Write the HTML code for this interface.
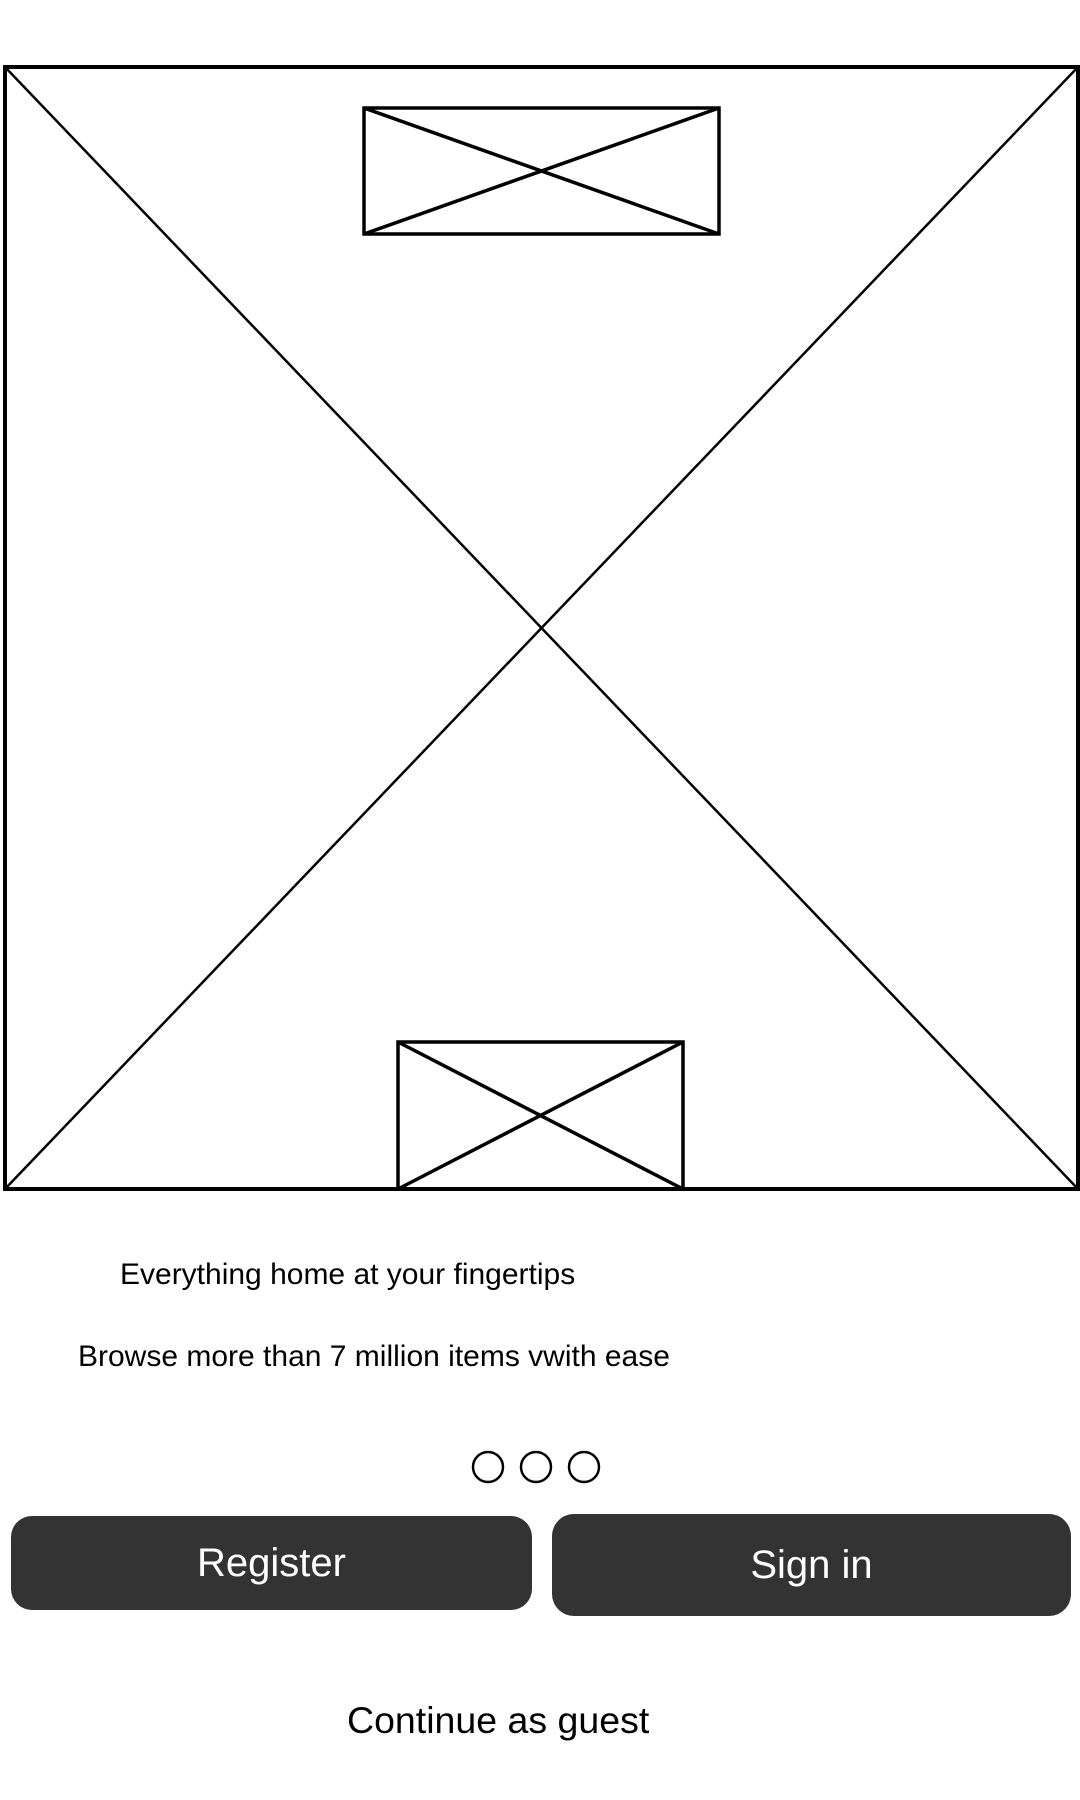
<!DOCTYPE html>
<html><head><meta charset="utf-8"><style>
html,body{margin:0;padding:0;background:#fff;width:1080px;height:1800px;overflow:hidden;font-family:"Liberation Sans",Arial,sans-serif}
.t{position:absolute;white-space:nowrap;color:#000}
.btn{position:absolute;background:#333;color:#fff;display:flex;align-items:center;justify-content:center;font-size:40px}
</style></head><body>
<svg width="1080" height="1800" style="position:absolute;left:0;top:0">
<g stroke="#000" fill="none">
<rect x="5" y="67" width="1073" height="1122" stroke-width="4"/>
<line x1="5" y1="67" x2="1078" y2="1189" stroke-width="2.5"/>
<line x1="1078" y1="67" x2="5" y2="1189" stroke-width="2.5"/>
</g>
<g stroke="#000" fill="none" stroke-width="3.5">
<rect x="364" y="108" width="355" height="126"/>
<line x1="364" y1="108" x2="719" y2="234"/>
<line x1="719" y1="108" x2="364" y2="234"/>
</g>
<g stroke="#000" fill="none" stroke-width="3.5">
<rect x="398" y="1042" width="285" height="147"/>
<line x1="398" y1="1042" x2="683" y2="1189"/>
<line x1="683" y1="1042" x2="398" y2="1189"/>
</g>
<g stroke="#000" fill="none" stroke-width="2.5">
<circle cx="488" cy="1467" r="15"/>
<circle cx="536" cy="1467" r="15"/>
<circle cx="584" cy="1467" r="15"/>
</g>
</svg>
<div class="t" style="left:120px;top:1258px;font-size:30px">Everything home at your fingertips</div>
<div class="t" style="left:78px;top:1340px;font-size:30px">Browse more than 7 million items vwith ease</div>
<div class="btn" style="left:11px;top:1516px;width:521px;height:94px;border-radius:21px">Register</div>
<div class="btn" style="left:552px;top:1514px;width:519px;height:102px;border-radius:22px">Sign in</div>
<div class="t" style="left:347px;top:1699px;font-size:37.5px">Continue as guest</div>
</body></html>
